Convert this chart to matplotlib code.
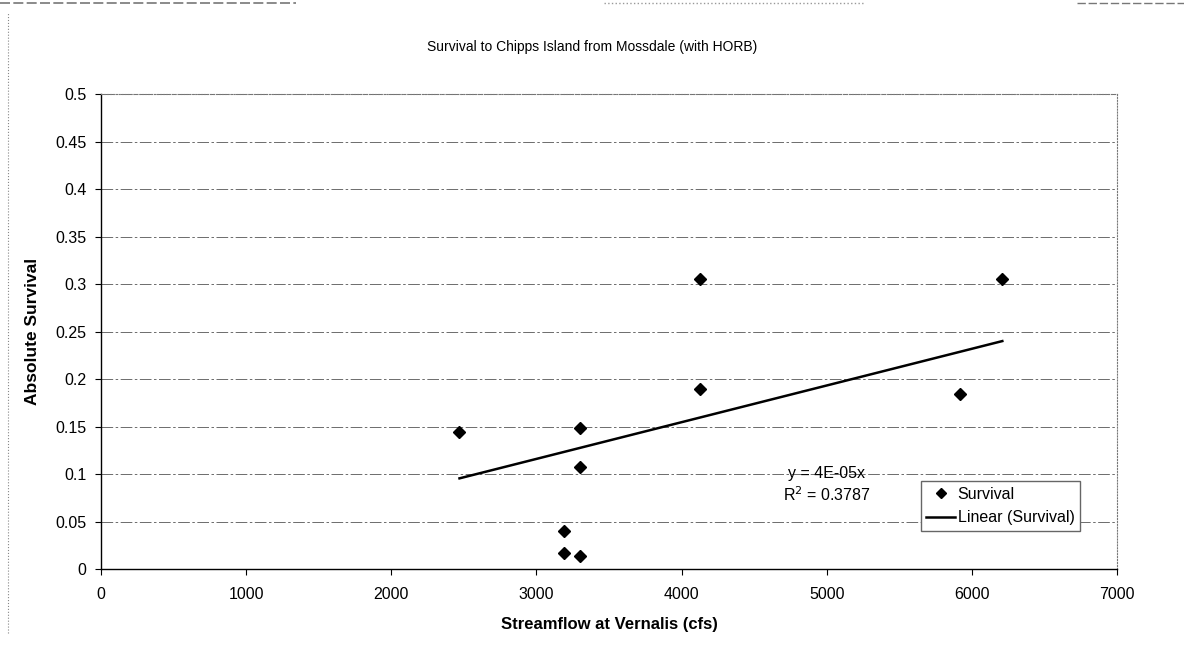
import matplotlib
matplotlib.use("Agg")
import matplotlib.pyplot as plt
import numpy as np

plt.rcParams['font.family'] = ['Liberation Sans', 'DejaVu Sans']

# streamflow at Vernalis (cfs) and absolute survival
flow = [2470, 3300, 3300, 3190, 3190, 3300, 4130, 4130, 6210, 5915]
survival = [0.144, 0.148, 0.107, 0.0395, 0.0166, 0.0139, 0.305, 0.189, 0.305, 0.184]

title = "Survival to Chipps Island from Mossdale (with HORB)"
x_label = "Streamflow at Vernalis (cfs)"
y_label = "Absolute Survival"
fit_text = "y = 4E-05x\nR$^2$ = 0.3787"

x_ticks = [0, 1000, 2000, 3000, 4000, 5000, 6000, 7000]
y_ticks = [0, 0.05, 0.1, 0.15, 0.2, 0.25, 0.3, 0.35, 0.4, 0.45, 0.5]
y_tick_labels = ["0", "0.05", "0.1", "0.15", "0.2", "0.25", "0.3", "0.35", "0.4", "0.45", "0.5"]

fig = plt.figure(figsize=(11.84, 6.53), dpi=100)
ax = fig.add_axes([0.0853, 0.1286, 0.8581, 0.7274])

x = np.array(flow, dtype=float)
y = np.array(survival, dtype=float)

# linear trend forced through the origin (like the Excel trendline)
slope = np.sum(x * y) / np.sum(x * x)
xl = np.array([x.min(), x.max()])

for yt in y_ticks[1:]:
    ax.axhline(yt, color='#555555', lw=0.6, ls=(0, (14, 3, 3, 3)), zorder=0)

ax.plot(x, y, 'D', color='black', markersize=5.8, label='Survival', zorder=3)
ax.plot(xl, slope * xl, color='black', lw=1.8, label='Linear (Survival)', zorder=2)

ax.set_xlim(0, 7000)
ax.set_ylim(0, 0.5)
ax.set_xticks(x_ticks)
ax.set_yticks(y_ticks)
ax.set_yticklabels(y_tick_labels)
ax.tick_params(axis='both', labelsize=11.5, direction='out', length=4, width=0.8)
ax.tick_params(axis='x', pad=9)
ax.tick_params(axis='y', pad=6.5)

for side in ['top', 'right']:
    ax.spines[side].set_color('#777777')
    ax.spines[side].set_linestyle(':')
    ax.spines[side].set_linewidth(0.8)
for side in ['left', 'bottom']:
    ax.spines[side].set_color('black')
    ax.spines[side].set_linewidth(1.0)

ax.set_xlabel(x_label, fontsize=12, fontweight='bold', labelpad=11)
ax.set_ylabel(y_label, fontsize=12.5, fontweight='bold', labelpad=11)

fig.text(0.5, 0.928, title, ha='center', va='center', fontsize=10)

ax.text(5000, 0.0885, fit_text, ha='center', va='center', fontsize=11.5,
        linespacing=1.25, zorder=4)

leg = ax.legend(loc='lower right', bbox_to_anchor=(0.9636, 0.08), fontsize=11.5,
                frameon=True, fancybox=False, borderpad=0.35, handlelength=1.8,
                handletextpad=0.15, labelspacing=0.55, borderaxespad=0,
                framealpha=1, markerscale=0.8)
leg.get_frame().set_edgecolor('#666666')
leg.get_frame().set_linewidth(1.0)

# chart area border from the scan (dotted left side, fragments on top)
fig.add_artist(plt.Line2D([0.007, 0.007], [0.03, 0.98], color='#888888', lw=0.8, ls=':'))
fig.add_artist(plt.Line2D([0.0, 0.25], [0.996, 0.996], color='#777777', lw=1.2, ls=(0, (6, 2))))
fig.add_artist(plt.Line2D([0.51, 0.73], [0.996, 0.996], color='#999999', lw=1.0, ls=':'))
fig.add_artist(plt.Line2D([0.91, 1.0], [0.996, 0.996], color='#777777', lw=1.0, ls=(0, (6, 2))))

fig.savefig('out.png', dpi=100, facecolor='white')
